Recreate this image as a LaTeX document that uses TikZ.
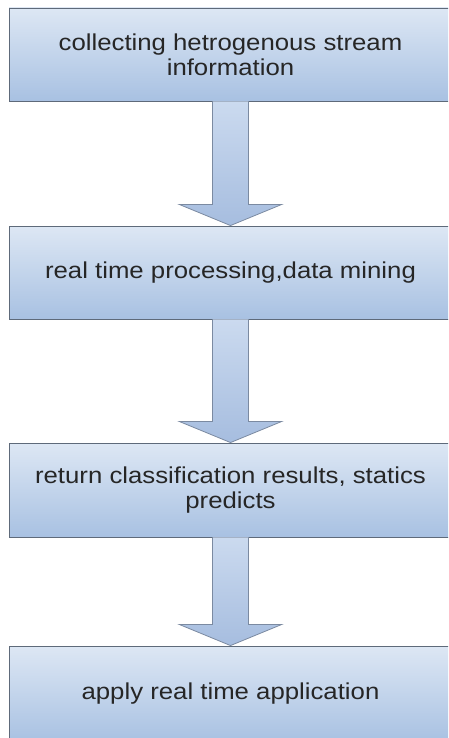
\documentclass[tikz,border=0pt]{standalone}
\usepackage{fontspec}
\setmainfont{Liberation Sans}[FakeStretch=1.12]
\usetikzlibrary{calc}

\definecolor{boxtop}{HTML}{DDE7F4}
\definecolor{boxbot}{HTML}{A8C1E2}
\definecolor{boxline}{HTML}{5E6A7A}
\definecolor{arrtop}{HTML}{CBDAEF}
\definecolor{arrbot}{HTML}{A6BDDF}
\definecolor{arrline}{HTML}{7B8AA1}

\begin{document}
\begin{tikzpicture}[x=1pt,y=-1pt,
  stage/.style={draw=boxline, line width=0.9pt, top color=boxtop, bottom color=boxbot,
    minimum width=443pt, inner sep=0pt, align=center,
    font=\fontsize{23}{25}\selectfont, text=black!85},
  flow/.style={draw=arrline, line width=0.8pt, top color=arrtop, bottom color=arrbot}]
  \clip (0,0) rectangle (448,738);
  % Boxes
  \node[stage, minimum height=93pt] (b1) at (230.5,54.5) {collecting hetrogenous stream\\information};
  \node[stage, minimum height=93pt] (b2) at (230.5,272.5) {real time processing,data mining};
  \node[stage, minimum height=94pt] (b3) at (230.5,490) {return classification results, statics\\predicts};
  \node[stage, minimum height=96pt] (b4) at (230.5,694) {apply real time application};
  % Block arrows
  \foreach \a/\b in {b1/b2,b2/b3,b3/b4}
    \draw[flow] ($(\a.south)+(-18,0)$) -- ($(\b.north)+(-18,-21)$) -- ($(\b.north)+(-51,-21)$)
      -- (\b.north) -- ($(\b.north)+(51,-21)$) -- ($(\b.north)+(18,-21)$)
      -- ($(\a.south)+(18,0)$);
\end{tikzpicture}
\end{document}
